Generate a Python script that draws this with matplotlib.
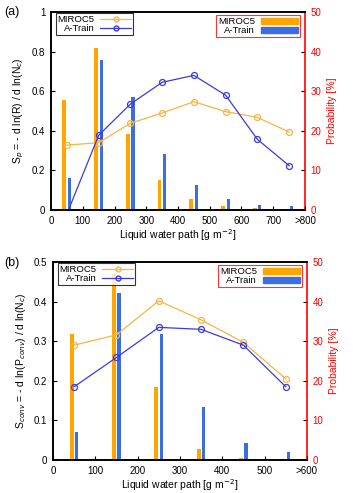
import numpy as np
import matplotlib
matplotlib.use("Agg")
import matplotlib.pyplot as plt
from matplotlib.patches import Patch
from matplotlib.lines import Line2D

plt.rcParams['font.family'] = ['Liberation Sans', 'DejaVu Sans']

# panel (a): susceptibility of rain rate
lwp_a = [50, 150, 250, 350, 450, 550, 650, 750]
sp_miroc = [0.328, 0.34, 0.438, 0.49, 0.547, 0.497, 0.468, 0.394]
sp_atrain = [-0.02, 0.377, 0.535, 0.645, 0.68, 0.58, 0.357, 0.224]
prob_a_miroc = [27.7, 41.0, 19.2, 7.7, 2.8, 1.0, 0.4, 0.35]
prob_a_atrain = [8.2, 38.0, 28.5, 14.2, 6.2, 2.7, 1.2, 1.0]
xticks_a = [0, 100, 200, 300, 400, 500, 600, 700, 800]
xlabels_a = ['0', '100', '200', '300', '400', '500', '600', '700', '>800']

# panel (b): susceptibility of conversion rate
lwp_b = [50, 150, 250, 350, 450, 550]
sc_miroc = [0.29, 0.316, 0.402, 0.354, 0.297, 0.205]
sc_atrain = [0.185, 0.259, 0.335, 0.33, 0.29, 0.185]
prob_b_miroc = [31.7, 47.0, 18.5, 2.8, 0.5, 0.0]
prob_b_atrain = [7.2, 42.3, 31.8, 13.3, 4.4, 1.9]
xticks_b = [0, 100, 200, 300, 400, 500, 600]
xlabels_b = ['0', '100', '200', '300', '400', '500', '>600']

c_or_bar = '#ffa500'
c_bl_bar = '#3d6ee0'
c_or_line = '#f6b547'
c_bl_line = '#3a3ae0'

fig = plt.figure(figsize=(3.53, 4.93), dpi=100)
fs = 7


def panel(rect, x, s_m, s_a, p_m, p_a, ymax, yticks, xmax, xt, xl, ylab,
          off, wm, wa):
    ax = fig.add_axes(rect)
    ax2 = ax.twinx()
    xs = np.array(x)
    ax2.bar(xs - off, p_m, width=wm, color=c_or_bar, zorder=2)
    ax2.bar(xs + off, p_a, width=wa, color=c_bl_bar, zorder=2)
    ax2.set_ylim(0, 50)
    ax2.set_yticks([0, 10, 20, 30, 40, 50])
    ax2.tick_params(axis='y', direction='in', colors='black', labelcolor='red',
                    labelsize=fs, length=3, width=0.8, pad=4)
    ax2.set_ylabel('Probability [%]', color='red', fontsize=fs + 0.5, labelpad=4)
    for sp in ax2.spines.values():
        sp.set_linewidth(1.2)
    ax2.spines['right'].set_color('red')

    ax.set_zorder(ax2.get_zorder() + 1)
    ax.patch.set_visible(False)
    ax.plot(x, s_m, color=c_or_line, lw=0.9, marker='o', ms=4.3, mfc='none',
            mec=c_or_line, mew=0.9)
    ax.plot(x, s_a, color=c_bl_line, lw=0.9, marker='o', ms=4.3, mfc='none',
            mec=c_bl_line, mew=0.9)
    ax.set_ylim(0, ymax)
    ax.set_yticks(yticks)
    ax.set_yticklabels(['0'] + [f'{v:g}' for v in yticks[1:]])
    ax.set_xlim(0, xmax)
    ax.set_xticks(xt)
    ax.set_xticklabels(xl)
    ax.tick_params(direction='in', labelsize=fs, length=3, width=0.8, pad=4)
    ax.set_xlabel('Liquid water path [g m$^{-2}$]', fontsize=fs + 0.5, labelpad=1)
    ax.set_ylabel(ylab, fontsize=fs + 0.5, labelpad=4)
    for sp in ax.spines.values():
        sp.set_linewidth(1.2)
    ax.spines['right'].set_visible(False)

    h1 = [Line2D([], [], color=c_or_line, lw=0.9, marker='o', ms=3.5, mfc='none'),
          Line2D([], [], color=c_bl_line, lw=0.9, marker='o', ms=3.5, mfc='none')]
    leg1 = ax.legend(h1, ['MIROC5', 'A-Train'], loc='upper left',
                     bbox_to_anchor=(0.015, 1.0), fontsize=6.8, markerfirst=False,
                     frameon=True, fancybox=False, handlelength=3.3,
                     borderpad=0.2, labelspacing=0.05, handletextpad=0.6,
                     borderaxespad=0.1)
    leg1.get_frame().set_edgecolor('black')
    leg1.get_frame().set_linewidth(0.8)
    h2 = [Patch(color=c_or_bar), Patch(color=c_bl_bar)]
    leg2 = ax2.legend(h2, ['MIROC5', 'A-Train'], loc='upper right',
                      bbox_to_anchor=(0.985, 0.99), fontsize=6.8, markerfirst=False,
                      frameon=True, fancybox=False, handlelength=4.0,
                      handleheight=0.6, borderpad=0.2, labelspacing=0.05,
                      handletextpad=0.6, borderaxespad=0.1)
    leg2.get_frame().set_edgecolor('red')
    leg2.get_frame().set_linewidth(0.8)
    return ax


panel([0.1445, 0.574, 0.7195, 0.4016], lwp_a, sp_miroc, sp_atrain,
      prob_a_miroc, prob_a_atrain, 1.0, [0, 0.2, 0.4, 0.6, 0.8, 1.0],
      800, xticks_a, xlabels_a, 'S$_p$ = - d ln(R) / d ln(N$_c$)', 8, 12, 10)
panel([0.150, 0.0669, 0.7195, 0.4016], lwp_b, sc_miroc, sc_atrain,
      prob_b_miroc, prob_b_atrain, 0.5, [0, 0.1, 0.2, 0.3, 0.4, 0.5],
      600, xticks_b, xlabels_b,
      'S$_{conv}$ = - d ln(P$_{conv}$) / d ln(N$_c$)', 6, 9.5, 7.5)

fig.text(0.035, 0.976, '(a)', fontsize=9, ha='center', va='center')
fig.text(0.035, 0.466, '(b)', fontsize=9, ha='center', va='center')

fig.savefig('out.png', dpi=100)
